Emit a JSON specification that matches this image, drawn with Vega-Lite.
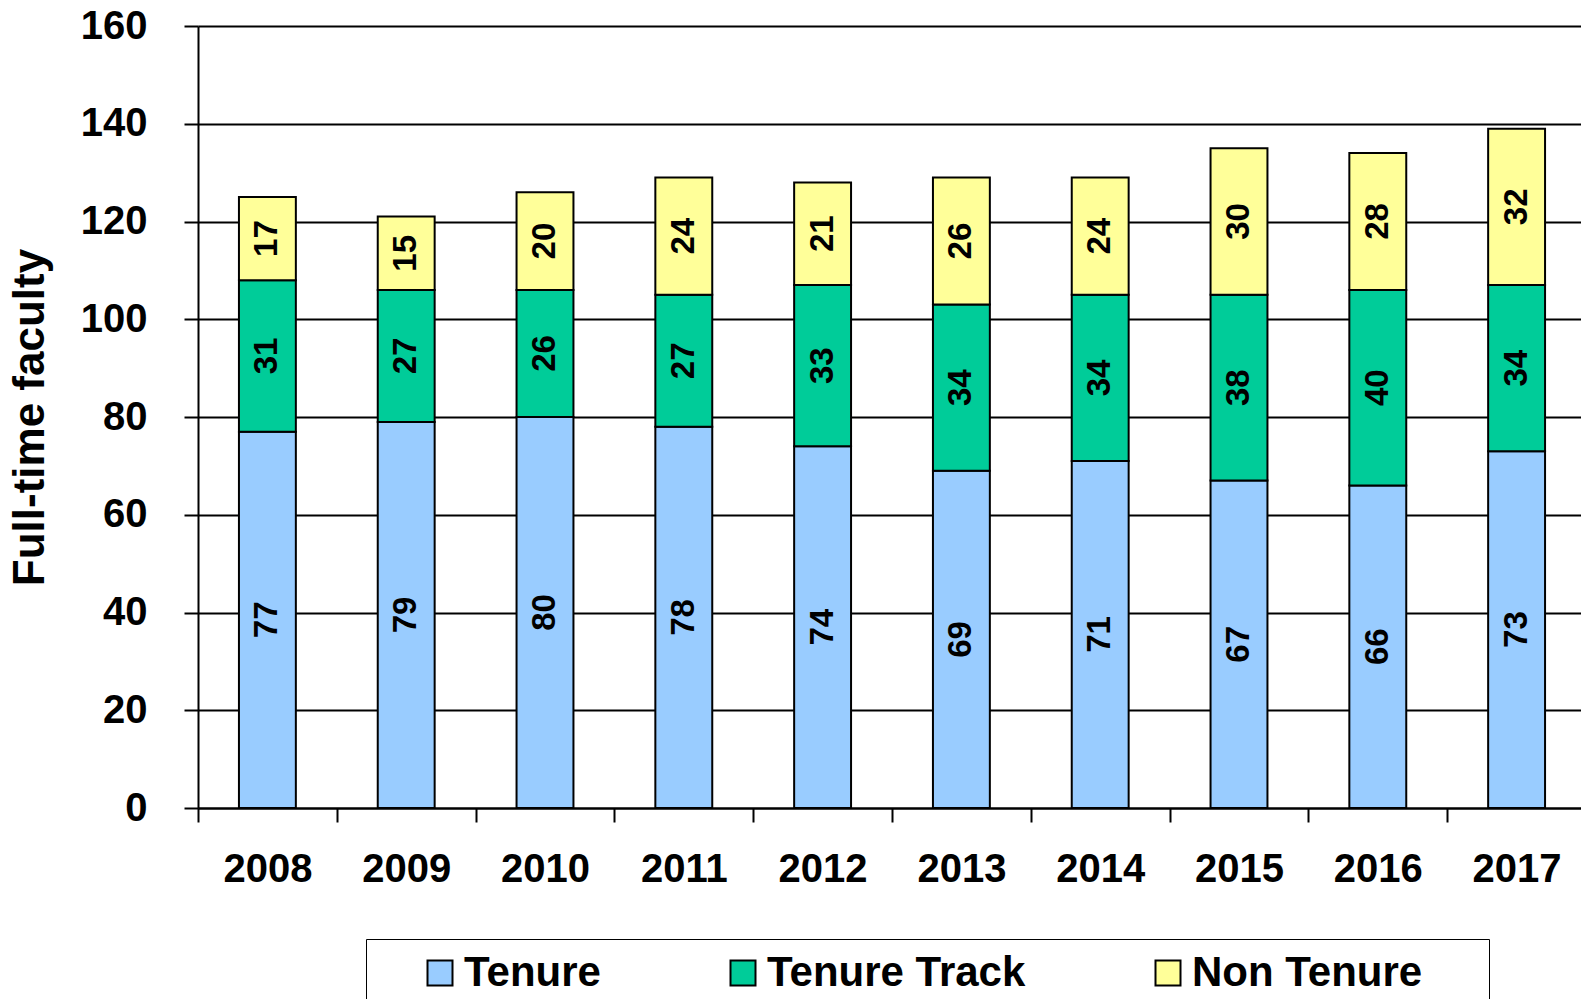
{
  "$schema": "https://vega.github.io/schema/vega-lite/v6.json",
  "autosize": {"type": "none"},
  "width": 1388,
  "height": 782,
  "padding": {"left": 198, "top": 26, "right": -5, "bottom": 191},
  "background": "white",
  "config": {
    "font": "Liberation Sans",
    "view": {"stroke": null},
    "axis": {"labelFontWeight": "bold", "titleFontWeight": "bold", "labelColor": "black", "titleColor": "black"}
  },
  "data": {
    "values": [
      {"year": "2008", "type": "Tenure", "rank": 1, "count": 77},
      {"year": "2008", "type": "Tenure Track", "rank": 2, "count": 31},
      {"year": "2008", "type": "Non Tenure", "rank": 3, "count": 17},
      {"year": "2009", "type": "Tenure", "rank": 1, "count": 79},
      {"year": "2009", "type": "Tenure Track", "rank": 2, "count": 27},
      {"year": "2009", "type": "Non Tenure", "rank": 3, "count": 15},
      {"year": "2010", "type": "Tenure", "rank": 1, "count": 80},
      {"year": "2010", "type": "Tenure Track", "rank": 2, "count": 26},
      {"year": "2010", "type": "Non Tenure", "rank": 3, "count": 20},
      {"year": "2011", "type": "Tenure", "rank": 1, "count": 78},
      {"year": "2011", "type": "Tenure Track", "rank": 2, "count": 27},
      {"year": "2011", "type": "Non Tenure", "rank": 3, "count": 24},
      {"year": "2012", "type": "Tenure", "rank": 1, "count": 74},
      {"year": "2012", "type": "Tenure Track", "rank": 2, "count": 33},
      {"year": "2012", "type": "Non Tenure", "rank": 3, "count": 21},
      {"year": "2013", "type": "Tenure", "rank": 1, "count": 69},
      {"year": "2013", "type": "Tenure Track", "rank": 2, "count": 34},
      {"year": "2013", "type": "Non Tenure", "rank": 3, "count": 26},
      {"year": "2014", "type": "Tenure", "rank": 1, "count": 71},
      {"year": "2014", "type": "Tenure Track", "rank": 2, "count": 34},
      {"year": "2014", "type": "Non Tenure", "rank": 3, "count": 24},
      {"year": "2015", "type": "Tenure", "rank": 1, "count": 67},
      {"year": "2015", "type": "Tenure Track", "rank": 2, "count": 38},
      {"year": "2015", "type": "Non Tenure", "rank": 3, "count": 30},
      {"year": "2016", "type": "Tenure", "rank": 1, "count": 66},
      {"year": "2016", "type": "Tenure Track", "rank": 2, "count": 40},
      {"year": "2016", "type": "Non Tenure", "rank": 3, "count": 28},
      {"year": "2017", "type": "Tenure", "rank": 1, "count": 73},
      {"year": "2017", "type": "Tenure Track", "rank": 2, "count": 34},
      {"year": "2017", "type": "Non Tenure", "rank": 3, "count": 32}
    ]
  },
  "encoding": {
    "x": {
      "field": "year", "type": "nominal",
      "scale": {"paddingInner": 0, "paddingOuter": 0},
      "axis": {
        "title": null, "labelAngle": 0, "labelFontSize": 40, "labelPadding": 27,
        "tickSize": 14, "tickColor": "black", "tickWidth": 2, "tickBand": "extent",
        "domainColor": "black", "domainWidth": 2
      }
    }
  },
  "layer": [
    {
      "mark": {"type": "bar", "stroke": "black", "strokeWidth": 2, "width": {"band": 0.41}},
      "encoding": {
        "y": {
          "field": "count", "type": "quantitative", "stack": "zero",
          "scale": {"domain": [0, 160], "nice": false},
          "axis": {
            "title": "Full-time faculty", "titleFontSize": 44, "titlePadding": 28,
            "values": [0, 20, 40, 60, 80, 100, 120, 140, 160],
            "labelFontSize": 40, "labelPadding": 37,
            "tickSize": 14, "tickColor": "black", "tickWidth": 2,
            "grid": true, "gridColor": "black", "gridWidth": 2, "gridOpacity": 1,
            "domainColor": "black", "domainWidth": 2
          }
        },
        "color": {
          "field": "type", "type": "nominal",
          "scale": {"domain": ["Tenure", "Tenure Track", "Non Tenure"], "range": ["#99CCFF", "#00CC99", "#FFFF99"]},
          "legend": {
            "orient": "none", "legendX": 168, "legendY": 913, "direction": "horizontal",
            "title": "\u00a0", "titleOrient": "right", "titlePadding": 54, "titleFontSize": 38,
            "padding": 13, "strokeColor": "black",
            "symbolType": "square", "symbolSize": 625, "symbolStrokeColor": "black", "symbolStrokeWidth": 2, "symbolOpacity": 1,
            "symbolOffset": 40,
            "labelFontSize": 42, "labelFontWeight": "bold", "labelColor": "black", "labelOffset": 3, "labelLimit": 600,
            "columnPadding": 81
          }
        },
        "order": {"field": "rank", "type": "quantitative", "sort": "ascending"}
      }
    },
    {
      "transform": [
        {"stack": "count", "groupby": ["year"], "sort": [{"field": "rank", "order": "ascending"}], "as": ["y0", "y1"]},
        {"fold": ["y0", "y1"], "as": ["edge", "pos"]}
      ],
      "mark": {"type": "text", "angle": 270, "fontSize": 33, "fontWeight": "bold", "color": "black", "align": "center", "baseline": "middle"},
      "encoding": {
        "y": {"field": "pos", "type": "quantitative", "aggregate": "mean"},
        "detail": {"field": "type", "type": "nominal"},
        "text": {"field": "count", "type": "quantitative", "aggregate": "max"}
      }
    }
  ]
}
